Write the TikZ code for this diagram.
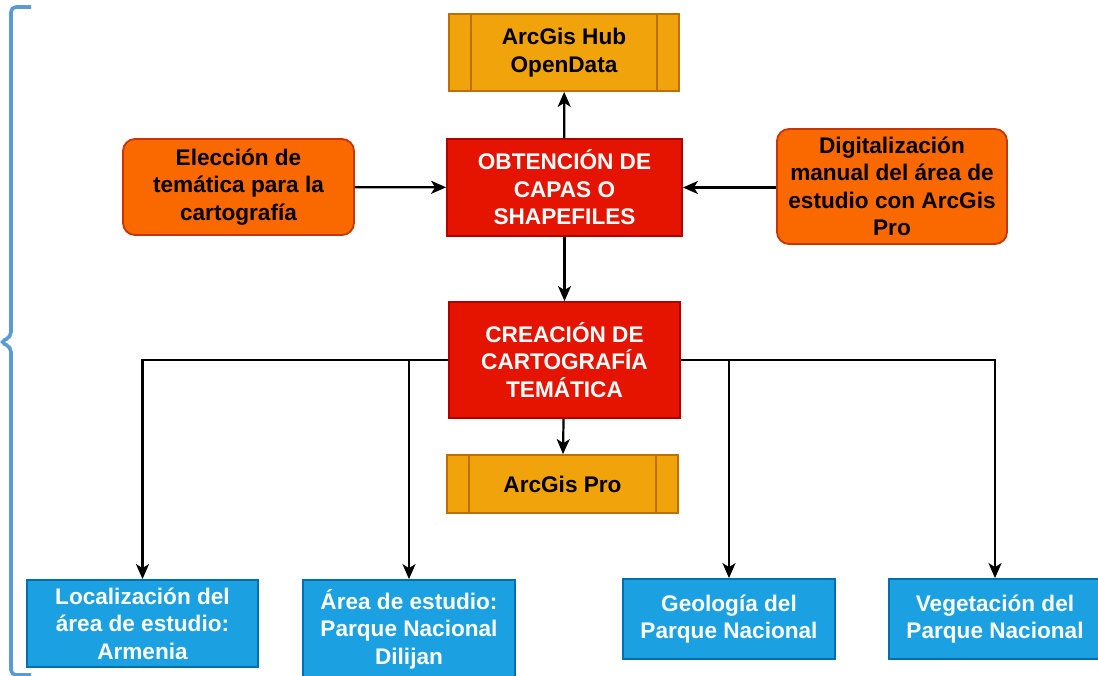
\documentclass[tikz,border=0pt]{standalone}
\usepackage{fontspec}
\setmainfont{Liberation Sans}
\usetikzlibrary{arrows.meta}
\definecolor{amberF}{HTML}{F0A30A}
\definecolor{amberD}{HTML}{BD7000}
\definecolor{orgF}{HTML}{FA6800}
\definecolor{orgD}{HTML}{C73500}
\definecolor{redF}{HTML}{E51400}
\definecolor{redD}{HTML}{B20000}
\definecolor{bluF}{HTML}{1BA1E2}
\definecolor{bluD}{HTML}{006EAF}
\definecolor{brk}{HTML}{5B9BD5}
\newcommand\bx[7]{\node[#2, minimum width={#5-#3}, minimum height={#6-#4}] (#1) at ({(#3+#5)/2},{(#4+#6)/2}) {#7};}
\begin{document}
\begin{tikzpicture}[x=1pt,y=-1pt,
  every node/.style={font=\fontsize{22.6}{27.5}\selectfont\bfseries, align=center, inner sep=0pt},
  procbox/.style={draw=amberD, fill=amberF, line width=1.8pt, text=black},
  orgbox/.style={draw=orgD, fill=orgF, line width=1.8pt, rounded corners=12pt, text=black},
  redbox/.style={draw=redD, fill=redF, line width=1.8pt, text=white},
  blubox/.style={draw=bluD, fill=bluF, line width=1.8pt, text=white},
  arr/.style={-{Stealth[length=15pt,width=13pt,inset=4pt]}, line width=2.2pt, black},
  inner/.style={draw=amberD, line width=1.8pt}]
\useasboundingbox (0,0) rectangle (1098,676);

% bracket
\draw[brk, line width=3.6pt, rounded corners=5pt] (31,7) -- (11,7) -- (11,337) -- (0,342) -- (11,347) -- (11,675) -- (31,675);

\bx{hub}{procbox}{449}{14}{679}{91}{ArcGis Hub\\OpenData}
\draw[inner] ([xshift=23pt]hub.north west) -- ([xshift=23pt]hub.south west);
\draw[inner] ([xshift=-23pt]hub.north east) -- ([xshift=-23pt]hub.south east);

\bx{obt}{redbox}{447}{139}{682}{236}{OBTENCIÓN DE\\CAPAS O\\SHAPEFILES}
\bx{elec}{orgbox}{123}{139}{354}{235}{Elección de\\temática para la\\cartografía}
\bx{dig}{orgbox}{777}{129}{1007}{244}{Digitalización\\manual del área de\\estudio con ArcGis\\Pro}
\bx{crea}{redbox}{449}{302}{680}{418}{CREACIÓN DE\\CARTOGRAFÍA\\TEMÁTICA}

\bx{pro}{procbox}{447}{455}{678}{513}{ArcGis Pro}
\draw[inner] ([xshift=23pt]pro.north west) -- ([xshift=23pt]pro.south west);
\draw[inner] ([xshift=-23pt]pro.north east) -- ([xshift=-23pt]pro.south east);

\bx{loc}{blubox}{27}{580}{258}{667}{Localización del\\área de estudio:\\Armenia}
\bx{area}{blubox}{303}{580}{515}{678}{Área de estudio:\\Parque Nacional\\Dilijan}
\bx{geo}{blubox}{623}{579}{835}{659}{Geología del\\Parque Nacional}
\bx{veg}{blubox}{889}{579}{1101}{659}{Vegetación del\\Parque Nacional}

\draw[arr] (obt) -- (hub);
\draw[arr] (elec) -- (obt);
\draw[arr] (dig.west |- obt) -- (obt);
\draw[arr] (obt) -- (crea);
\draw[arr] (crea) -- (pro);
\draw[arr] (crea.west) -| (loc.north);
\draw[arr] (crea.west) -| (area.north);
\draw[arr] (crea.east) -| (geo.north);
\draw[arr] (crea.east) -| (veg.north);
\end{tikzpicture}
\end{document}
